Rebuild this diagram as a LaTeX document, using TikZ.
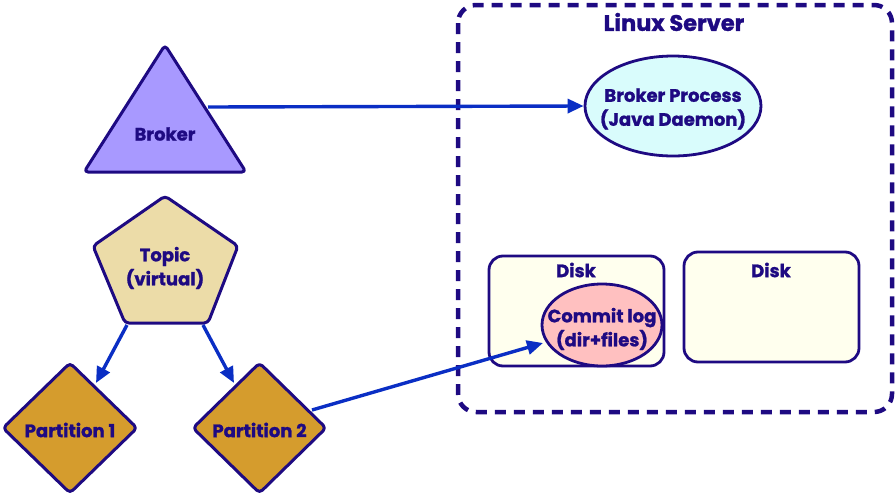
\documentclass[tikz,border=0pt]{standalone}
\usepackage{fontspec}
\setmainfont{Poppins}[BoldFeatures={FakeBold=1.2}]
\usetikzlibrary{arrows.meta,shapes.geometric}
\definecolor{ink}{HTML}{1E0A82}
\definecolor{arr}{HTML}{0A2EC4}
\definecolor{lav}{HTML}{A899FF}
\definecolor{cyanf}{HTML}{D9FCFC}
\definecolor{tan}{HTML}{ECDCA8}
\definecolor{gold}{HTML}{D59C2D}
\definecolor{ivory}{HTML}{FFFFEE}
\definecolor{pinkf}{HTML}{FFC0C0}
\tikzset{
  shp/.style={draw=ink,line width=3pt,line join=round,rounded corners=4pt},
  lbl/.style={text=ink,font=\bfseries\fontsize{18}{24}\selectfont,align=center},
  conn/.style={draw=arr,line width=3.4pt,-{Triangle[length=16pt,width=14pt]}},
}
\begin{document}
\begin{tikzpicture}[x=1pt,y=-1pt]
\useasboundingbox (0,0) rectangle (895,496);
% Linux server
\draw[draw=ink,line width=4.5pt,dash pattern=on 11pt off 8pt,rounded corners=18pt] (458,5) rectangle (892,412);
\node[lbl,font=\bfseries\fontsize{22.5}{27}\selectfont] (ls) at (674,22) {Linux Server};
% Broker triangle
\filldraw[shp,fill=lav] (165,45) -- (246,172) -- (84,172) -- cycle;
\node[lbl] (broker) at (165,134) {Broker};
\coordinate (bro) at (208,107);
% Broker process
\node[ellipse,draw=ink,line width=2.8pt,fill=cyanf,minimum width=176pt,minimum height=100pt,inner sep=0pt] (bp) at (673,106) {};
\node[lbl] at (673,109) {Broker Process\\(Java Daemon)};
% Topic pentagon
\filldraw[shp,fill=tan] (165,196) -- (238,246) -- (208,323) -- (125,323) -- (93,246) -- cycle;
\node[lbl] (topic) at (165,268) {Topic\\(virtual)};
\coordinate (tl) at (127,325);
\coordinate (tr) at (203,325);
% Partitions
\filldraw[shp,fill=gold] (70,363) -- (137,428) -- (70,493) -- (3,428) -- cycle;
\node[lbl] (p1) at (70,430) {Partition 1};
\filldraw[shp,fill=gold] (259.5,363) -- (326,428) -- (259.5,493) -- (193,428) -- cycle;
\node[lbl] (p2) at (259.5,430) {Partition 2};
\coordinate (p1t) at (96,383);
\coordinate (p2t) at (234,383);
\coordinate (p2r) at (312,410);
% Disks
\filldraw[draw=ink,line width=2.8pt,fill=ivory,rounded corners=14pt] (489,256) rectangle (664,366);
\node[lbl] (d1) at (576,270) {Disk};
\filldraw[draw=ink,line width=2.8pt,fill=ivory,rounded corners=14pt] (684,252) rectangle (859,362);
\node[lbl] (d2) at (771,270) {Disk};
% Commit log
\node[ellipse,draw=ink,line width=2.8pt,fill=pinkf,minimum width=120pt,minimum height=82pt,inner sep=0pt] (cl) at (602,325) {};
\node[lbl] at (602,329) {Commit log\\(dir+files)};
\coordinate (clt) at (543,343);
% arrows
\draw[conn] (bro) -- (bp.west);
\draw[conn] (tl) -- (p1t);
\draw[conn] (tr) -- (p2t);
\draw[conn] (p2r) -- (clt);
\end{tikzpicture}
\end{document}
